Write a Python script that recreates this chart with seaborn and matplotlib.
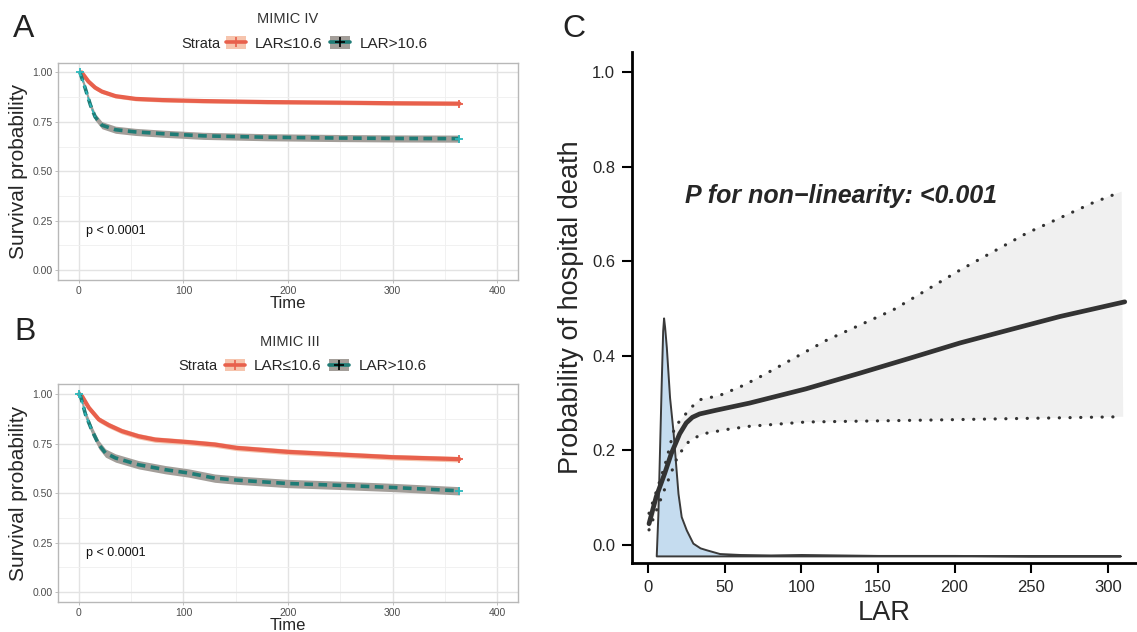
import numpy as np
import pandas as pd
import seaborn as sns
import matplotlib.pyplot as plt
from matplotlib.patches import Patch
from matplotlib.lines import Line2D

# ---- panel A: MIMIC IV, Kaplan-Meier curves
a_time_low = [2.6, 9.1, 15.5, 22, 35, 54.3, 80, 119, 180, 248, 300, 364]
a_surv_low = [1.0, 0.954, 0.923, 0.903, 0.880, 0.866, 0.860, 0.855, 0.850, 0.847, 0.844, 0.842]
a_time_high = [1, 6, 11, 15.5, 22, 35, 54, 80, 119, 180, 248, 300, 364]
a_surv_high = [1.0, 0.92, 0.835, 0.775, 0.733, 0.710, 0.699, 0.690, 0.679, 0.672, 0.668, 0.666, 0.665]
a_band = [0.010, 0.018]   # half width of CI band (low, high)

# ---- panel B: MIMIC III
b_time_low = [0, 3, 9.5, 19, 28.6, 41, 57, 73, 105, 130, 151, 200, 248, 300, 364]
b_surv_low = [1.0, 0.99, 0.932, 0.873, 0.844, 0.814, 0.788, 0.771, 0.758, 0.746, 0.729, 0.709, 0.696, 0.682, 0.672]
b_time_high = [0, 1.6, 6.3, 12.7, 19, 25.4, 35, 57, 82.5, 105, 130, 151, 200, 248, 300, 364]
b_surv_high = [1.0, 0.99, 0.898, 0.814, 0.746, 0.703, 0.678, 0.644, 0.619, 0.602, 0.576, 0.566, 0.549, 0.540, 0.529, 0.512]
b_band = [0.014, 0.021]

strata = ['LAR\u226410.6', 'LAR>10.6']

# ---- panel C: restricted cubic spline
rcs_x = [0.7, 5.4, 10.9, 15.2, 20.7, 25.0, 29.0, 33.7, 44.6, 66.3, 103, 138, 170, 203.5, 236, 268.8, 311]
rcs_y = [0.045, 0.102, 0.151, 0.193, 0.235, 0.258, 0.270, 0.277, 0.285, 0.300, 0.330, 0.363, 0.394, 0.427, 0.455, 0.483, 0.514]
up_x = [0.7, 6.5, 12, 17.4, 22.8, 28.3, 33.7, 46.7, 62, 75.2, 116.6, 160, 203.5, 247, 290, 309]
up_y = [0.067, 0.123, 0.179, 0.249, 0.270, 0.291, 0.307, 0.316, 0.337, 0.359, 0.433, 0.497, 0.581, 0.659, 0.723, 0.747]
lo_x = [0.7, 9.8, 19.6, 27.2, 35.9, 51, 66.3, 103, 181.8, 306.6]
lo_y = [0.032, 0.109, 0.189, 0.221, 0.235, 0.244, 0.251, 0.260, 0.264, 0.271]
dens_x = [5.4, 6.5, 7.6, 8.7, 9.6, 10.2, 10.9, 12.0, 14.1, 16.3, 19.6, 21.7, 25.0, 29.3, 34.0, 38.0, 46.7, 60, 80, 100, 150, 200, 250, 308]
dens_y = [-0.023, 0.067, 0.207, 0.347, 0.453, 0.48, 0.46, 0.418, 0.312, 0.242, 0.109, 0.06, 0.032, 0.004, -0.006, -0.010,
          -0.018, -0.020, -0.021, -0.020, -0.022, -0.022, -0.023, -0.023]
dens_base = -0.023

sns.set_theme(style='white')
plt.rcParams['font.family'] = ['Liberation Sans', 'DejaVu Sans']

RED = '#E8604C'
RED_BAND = '#F6C4AD'
TEAL = '#1F7C76'
TEAL_BAND = '#A39E99'
CYAN = '#2BB8BC'

W, H = 1137, 632
fig = plt.figure(figsize=(W / 100, H / 100), dpi=100)


def px(x0, y0, x1, y1):
    return [x0 / W, 1 - y1 / H, (x1 - x0) / W, (y1 - y0) / H]


def km_panel(ax, tl, sl, th, sh, band):
    ax.fill_between(tl, np.array(sl) - band[0], np.array(sl) + band[0], color=RED_BAND, lw=0, zorder=2)
    ax.fill_between(th, np.array(sh) - band[1], np.array(sh) + band[1], color=TEAL_BAND, lw=0, zorder=2)
    sns.lineplot(x=tl, y=sl, ax=ax, color=RED, lw=3.0, zorder=3)
    sns.lineplot(x=th, y=sh, ax=ax, color=TEAL, lw=2.6, linestyle=(0, (2.4, 1.5)), zorder=4)
    sns.lineplot(x=th[:4], y=sh[:4], ax=ax, color=CYAN, lw=1.2, linestyle=(0, (2.4, 1.5)), zorder=5)
    ax.plot(tl[-1], sl[-1], marker='+', color=RED, ms=6, mew=1.3, zorder=6)
    ax.plot([th[0], th[-1]], [sh[0], sh[-1]], ls='none', marker='+', color=CYAN, ms=6, mew=1.3, zorder=6)
    ax.set_xlim(-20, 420)
    ax.set_ylim(-0.05, 1.05)
    ax.set_xticks([0, 100, 200, 300, 400])
    ax.set_xticks([50, 150, 250, 350], minor=True)
    ax.set_yticks([0, 0.25, 0.5, 0.75, 1.0])
    ax.set_yticks([0.125, 0.375, 0.625, 0.875], minor=True)
    ax.set_yticklabels(['0.00', '0.25', '0.50', '0.75', '1.00'])
    ax.grid(which='major', color='#E3E3E3', lw=1.0)
    ax.grid(which='minor', color='#EFEFEF', lw=0.6)
    ax.set_axisbelow(True)
    for s in ax.spines.values():
        s.set_color('#B8B8B8')
        s.set_linewidth(1.0)
    ax.tick_params(which='major', length=2.5, width=0.6, color='#B3B3B3', labelsize=7.5,
                   labelcolor='#4D4D4D', pad=1.5, left=True, bottom=True)
    ax.tick_params(which='minor', length=0)
    ax.set_xlabel('Time', fontsize=12, labelpad=0.5)
    ax.set_ylabel('Survival probability', fontsize=15, labelpad=3)
    ax.text(7, 0.2, 'p < 0.0001', fontsize=9, va='center', ha='left', color='#111111')


def km_legend(y_px, strata_x, leg_x):
    handles = [(Patch(facecolor=RED_BAND, edgecolor='none'),
                Line2D([], [], color=RED, lw=2.6, marker='+', ms=7, mew=1.2)),
               (Patch(facecolor=TEAL_BAND, edgecolor='none'),
                Line2D([], [], color=TEAL, lw=2.6, marker='+', ms=7, mew=1.2, mec='black'))]
    fig.text(strata_x / W, 1 - y_px / H, 'Strata', fontsize=10.5, va='center', ha='left')
    fig.legend(handles, strata, ncol=2, loc='center left', frameon=False,
               bbox_to_anchor=(leg_x / W, 1 - y_px / H), fontsize=11,
               handlelength=1.3, handleheight=0.9, handletextpad=0.6, columnspacing=0.5,
               borderpad=0, borderaxespad=0)


ax_a = fig.add_axes(px(58, 62.5, 518, 280))
km_panel(ax_a, a_time_low, a_surv_low, a_time_high, a_surv_high, a_band)
fig.text(288 / W, 1 - 18.6 / H, 'MIMIC IV', fontsize=10.5, ha='center', va='center', color='#333333')
km_legend(43.5, 181, 226)

ax_b = fig.add_axes(px(58, 384.4, 518, 602))
km_panel(ax_b, b_time_low, b_surv_low, b_time_high, b_surv_high, b_band)
fig.text(290 / W, 1 - 342 / H, 'MIMIC III', fontsize=10.5, ha='center', va='center', color='#333333')
km_legend(366, 178, 225)

# ---- panel C
ax_c = fig.add_axes(px(632, 52, 1137, 563))
ax_c.fill(up_x + [310] + lo_x[::-1], up_y + [lo_y[-1]] + lo_y[::-1], color='#F0F0F0', lw=0, zorder=1)
ax_c.fill_between(dens_x, dens_base, dens_y, facecolor='#C5DCEF', edgecolor='#3A3A3A', lw=1.4, zorder=2)
for cx, cy in [(up_x, up_y), (lo_x, lo_y)]:
    sns.lineplot(x=cx, y=cy, ax=ax_c, color='#333333', lw=2.3, linestyle=(0, (0.05, 3.3)),
                 dash_capstyle='round', zorder=3)
sns.lineplot(x=rcs_x, y=rcs_y, ax=ax_c, color='#333333', lw=3.4, zorder=4)
ax_c.set_xlim(-10.4, 319)
ax_c.set_ylim(-0.038, 1.042)
ax_c.set_xticks([0, 50, 100, 150, 200, 250, 300])
ax_c.set_yticks([0, 0.2, 0.4, 0.6, 0.8, 1.0])
ax_c.set_yticklabels(['0.0', '0.2', '0.4', '0.6', '0.8', '1.0'])
for side in ['top', 'right']:
    ax_c.spines[side].set_visible(False)
for side in ['left', 'bottom']:
    ax_c.spines[side].set_color('black')
    ax_c.spines[side].set_linewidth(2.0)
ax_c.tick_params(length=7.2, width=1.5, color='black', labelsize=12, pad=5, left=True, bottom=True)
ax_c.set_xlabel('LAR', fontsize=19.5, labelpad=4)
ax_c.set_ylabel('Probability of hospital death', fontsize=19.5, labelpad=6)
ax_c.text(24.4, 0.738, 'P for non\u2212linearity: <0.001', fontsize=18, fontweight='bold',
          fontstyle='italic', va='center', ha='left')

for lab, x, y in [('A', 13, 37), ('B', 14, 340), ('C', 562, 37)]:
    fig.text(x / W, 1 - y / H, lab, fontsize=23, va='baseline', ha='left', color='#222222')

fig.savefig('out.png', dpi=100)
